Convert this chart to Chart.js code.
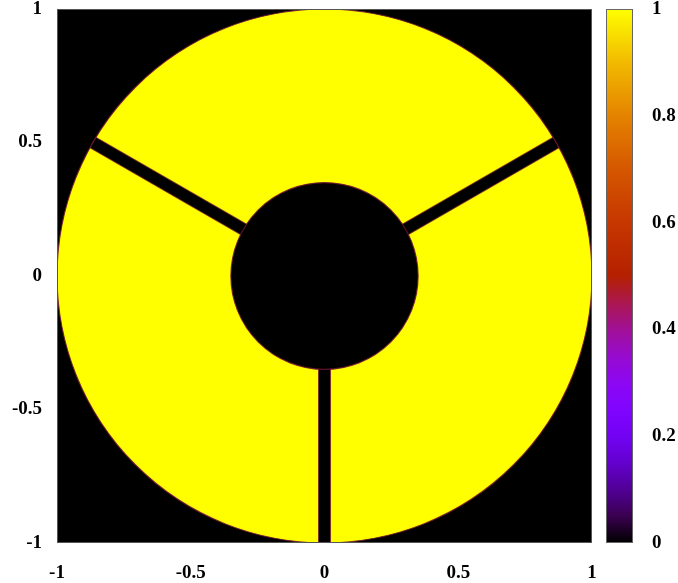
<!DOCTYPE html>
<html>
<head>
<meta charset="utf-8">
<script src="https://cdn.jsdelivr.net/npm/chart.js@4.4.1/dist/chart.umd.min.js"></script>
<style>
  html, body { margin: 0; padding: 0; background: #ffffff; }
  #wrap { width: 678px; height: 583px; }
</style>
</head>
<body>
<div id="wrap"><canvas id="c" width="678" height="583"></canvas></div>
<script>
// Axis tick values (pupil plane coordinates)
const axisTicks = [-1, -0.5, 0, 0.5, 1];
// Colour bar tick values
const colorbarTicks = [0, 0.2, 0.4, 0.6, 0.8, 1];

// Pupil geometry: clear aperture and central obscuration radii
const apertureRadius = [1.0];
const obscurationRadius = [0.35];
// Spider vanes: direction (degrees) and width
const spiderAngles = [30, 150, 270];
const spiderWidth = [0.044];
// Transmission levels: open aperture and blocked region
const transmission = [1, 0];

// Colour bar stops (value, colour)
const paletteStops = [
  [0.00, 'rgb(0,0,0)'],
  [0.05, 'rgb(57,0,79)'],
  [0.10, 'rgb(81,0,150)'],
  [0.15, 'rgb(99,1,206)'],
  [0.20, 'rgb(114,2,243)'],
  [0.25, 'rgb(128,4,255)'],
  [0.30, 'rgb(140,7,243)'],
  [0.35, 'rgb(151,11,206)'],
  [0.40, 'rgb(161,16,150)'],
  [0.45, 'rgb(171,23,79)'],
  [0.50, 'rgb(180,32,0)'],
  [0.60, 'rgb(198,55,0)'],
  [0.70, 'rgb(213,87,0)'],
  [0.80, 'rgb(228,131,0)'],
  [0.90, 'rgb(242,186,0)'],
  [1.00, 'rgb(255,255,0)']
];

function paletteColor(v) {
  let best = paletteStops[0];
  for (const s of paletteStops) { if (Math.abs(s[0] - v) < Math.abs(best[0] - v)) best = s; }
  return best[1];
}

const tickFont = { family: 'Liberation Serif', size: 19, weight: 'bold' };

const pupilMap = {
  id: 'pupilMap',
  beforeDatasetsDraw(chart) {
    const { ctx, chartArea: a, scales } = chart;
    const x = scales.x, y = scales.y;
    const sx = x.getPixelForValue(1) - x.getPixelForValue(0);
    const sy = y.getPixelForValue(0) - y.getPixelForValue(1);
    const cx = x.getPixelForValue(0), cy = y.getPixelForValue(0);
    const open = paletteColor(transmission[0]);
    const blocked = paletteColor(transmission[1]);
    const edge = 'rgba(110,20,50,0.85)';

    ctx.save();
    ctx.beginPath();
    ctx.rect(a.left, a.top, a.width, a.height);
    ctx.clip();

    // blocked background
    ctx.fillStyle = blocked;
    ctx.fillRect(a.left, a.top, a.width, a.height);

    // clear aperture
    const aperture = new Path2D();
    aperture.ellipse(cx, cy, apertureRadius[0] * sx, apertureRadius[0] * sy, 0, 0, Math.PI * 2);
    ctx.fillStyle = open;
    ctx.fill(aperture);

    // spider vanes, only inside the aperture
    ctx.save();
    ctx.clip(aperture);
    ctx.lineCap = 'butt';
    for (const deg of spiderAngles) {
      const t = deg * Math.PI / 180;
      const r0 = obscurationRadius[0] * 0.5, r1 = apertureRadius[0] * 1.1;
      const x0 = x.getPixelForValue(r0 * Math.cos(t)), y0 = y.getPixelForValue(r0 * Math.sin(t));
      const x1 = x.getPixelForValue(r1 * Math.cos(t)), y1 = y.getPixelForValue(r1 * Math.sin(t));
      ctx.beginPath();
      ctx.moveTo(x0, y0);
      ctx.lineTo(x1, y1);
      ctx.strokeStyle = edge;
      ctx.lineWidth = spiderWidth[0] * sx + 1.2;
      ctx.stroke();
      ctx.strokeStyle = blocked;
      ctx.lineWidth = spiderWidth[0] * sx - 0.6;
      ctx.stroke();
    }
    ctx.restore();

    // aperture rim
    ctx.lineWidth = 1.2;
    ctx.strokeStyle = edge;
    ctx.stroke(aperture);

    // central obscuration
    ctx.beginPath();
    ctx.ellipse(cx, cy, obscurationRadius[0] * sx, obscurationRadius[0] * sy, 0, 0, Math.PI * 2);
    ctx.fillStyle = blocked;
    ctx.fill();
    ctx.lineWidth = 1.2;
    ctx.strokeStyle = edge;
    ctx.stroke();

    ctx.restore();

    // plot frame
    ctx.save();
    ctx.strokeStyle = '#555555';
    ctx.lineWidth = 1;
    ctx.strokeRect(a.left + 0.5, a.top + 0.5, a.width - 1, a.height - 1);
    ctx.restore();

    // colour bar
    const cb = scales.cb;
    const bx0 = a.right + 14, bx1 = a.right + 41;
    const by0 = cb.getPixelForValue(1), by1 = cb.getPixelForValue(0);
    const g = ctx.createLinearGradient(0, by1, 0, by0);
    for (const s of paletteStops) g.addColorStop(s[0], s[1]);
    ctx.save();
    ctx.fillStyle = g;
    ctx.fillRect(bx0, by0, bx1 - bx0, by1 - by0);
    ctx.strokeStyle = '#666666';
    ctx.lineWidth = 1;
    ctx.strokeRect(bx0 + 0.5, by0 + 0.5, bx1 - bx0 - 1, by1 - by0 - 1);
    ctx.restore();
  }
};

function fixedTicks(list) {
  return function (scale) { scale.ticks = list.map(v => ({ value: v })); };
}

// Fix an axis box's thickness and drop its edge padding so the plot area keeps its size
function fixedSize(prop, px) {
  return function (s) {
    s[prop] = px;
    s.paddingTop = 0; s.paddingBottom = 0; s.paddingLeft = 0; s.paddingRight = 0;
  };
}

new Chart(document.getElementById('c'), {
  type: 'scatter',
  data: { datasets: [{ data: [], pointRadius: 0 }] },
  options: {
    responsive: false,
    animation: false,
    events: [],
    layout: { autoPadding: false, padding: { top: 9, left: 0, right: 0, bottom: 0 } },
    plugins: { legend: { display: false }, tooltip: { enabled: false } },
    scales: {
      x: {
        type: 'linear', position: 'bottom', min: -1, max: 1,
        afterBuildTicks: fixedTicks(axisTicks),
        afterFit: fixedSize('height', 40),
        grid: { display: false, drawTicks: false },
        border: { display: false },
        ticks: { font: tickFont, color: '#000000', padding: 19, maxRotation: 0,
                 callback: v => String(v) }
      },
      y: {
        type: 'linear', position: 'left', min: -1, max: 1,
        afterBuildTicks: fixedTicks(axisTicks),
        afterFit: fixedSize('width', 57),
        grid: { display: false, drawTicks: false },
        border: { display: false },
        ticks: { font: tickFont, color: '#000000', padding: 15,
                 callback: v => String(v) }
      },
      cb: {
        type: 'linear', axis: 'y', position: 'right', min: 0, max: 1,
        afterBuildTicks: fixedTicks(colorbarTicks),
        afterFit: fixedSize('width', 86),
        grid: { display: false, drawTicks: false },
        border: { display: false },
        ticks: { font: tickFont, color: '#000000', padding: 60,
                 callback: v => String(v) }
      }
    }
  },
  plugins: [pupilMap]
});
</script>
</body>
</html>
